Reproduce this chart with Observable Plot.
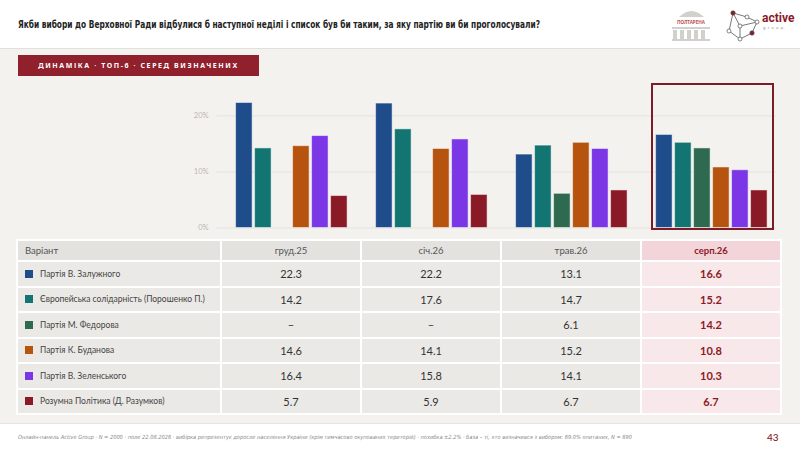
<!DOCTYPE html>
<html><head><meta charset="utf-8">
<script src="https://cdn.jsdelivr.net/npm/d3@7"></script>
<script src="https://cdn.jsdelivr.net/npm/@observablehq/plot@0.6"></script>
<style>
body{margin:0;width:800px;height:451px;overflow:hidden;background:#f4f2ef;font-family:Lato,"Noto Sans",sans-serif;position:relative}
#header{position:absolute;left:0;top:0;width:800px;height:48px;background:#fff;border-bottom:1px solid #e2e0dc}
#title{position:absolute;left:18px;top:18px;font:700 11px "Liberation Sans Narrow","DejaVu Sans Condensed",Roboto,sans-serif;color:#222;white-space:nowrap;transform-origin:0 50%}
#logos{position:absolute;left:660px;top:4px}
#banner{position:absolute;left:18px;top:55px;width:241px;height:21px;background:#8c1a26;color:#fff;font:700 7px "Noto Sans",sans-serif;letter-spacing:1.6px;text-align:center;line-height:21px;opacity:.97}
#chart{position:absolute;left:0;top:80px}
#tbl{position:absolute;left:16px;top:239px;border-collapse:separate;border-spacing:2px;background:#fff;table-layout:fixed}
#tbl td,#tbl th{padding:0;overflow:hidden;white-space:nowrap}
#tbl th{height:19px;background:#e4e2df;font-weight:400;font-size:9.5px;color:#555;text-align:center}
#tbl th.first{text-align:left;padding-left:7px}
#tbl th.hl{background:#f3d4d9;color:#8c1a26;font-weight:700}
#tbl td{height:23.5px;background:#ebe9e6;font-size:11px;color:#333;text-align:center}
#tbl td.name{text-align:left;font-size:8.5px;color:#444;padding-left:7px}
#tbl td.hl{background:#f9e8ea;color:#8c1a26;font-weight:700}
.sw{display:inline-block;width:8px;height:8px;margin-right:7px;vertical-align:-1px}
#footer{position:absolute;left:0;top:423px;width:800px;height:28px;background:#fff;border-top:1px solid #e6e4e0}
#note{position:absolute;left:18px;top:10px;font:italic 400 5.6px "Liberation Sans Narrow","DejaVu Sans Condensed",Roboto,sans-serif;color:#8a8a8a;white-space:nowrap;transform-origin:0 50%}
#page{position:absolute;left:767px;top:7px;font:500 10px Lato,sans-serif;color:#8c1a26}
</style></head>
<body>
<div id="header">
  <div id="title"></div>
  <svg id="logos" width="140" height="40" viewBox="660 4 140 40">
    <g fill="#d2d0cd">
      <path d="M679 17 Q691.5 5 704 17 Z"/>
      <rect x="672" y="27" width="38" height="2"/>
      <rect x="673" y="30" width="4" height="10"/><rect x="680" y="30" width="4" height="10"/>
      <rect x="687" y="30" width="4" height="10"/><rect x="694" y="30" width="4" height="10"/>
      <rect x="701" y="30" width="4" height="10"/><rect x="672" y="39" width="38" height="2"/>
    </g>
    <text x="691" y="24" text-anchor="middle" font-size="4.6" font-family="Noto Sans" font-weight="700" fill="#c0505a">ПОЛТАРЕНА</text>
    <g stroke="#555" stroke-width="0.8" fill="none">
      <polyline points="733,13 747,17 757,22 752,33 740,39 729,31 733,13"/>
      <line x1="733" y1="13" x2="740" y2="26"/><line x1="740" y1="26" x2="757" y2="22"/><line x1="740" y1="26" x2="740" y2="39"/>
    </g>
    <g stroke="#555" stroke-width="0.7">
      <circle cx="733" cy="13" r="2.2" fill="#8c1a26"/><circle cx="747" cy="17" r="2" fill="#fff"/>
      <circle cx="757" cy="22" r="2" fill="#fff"/><circle cx="752" cy="33" r="2.2" fill="#8c1a26"/>
      <circle cx="740" cy="39" r="2" fill="#fff"/><circle cx="729" cy="31" r="2" fill="#fff"/>
      <circle cx="740" cy="26" r="2" fill="#fff"/>
    </g>
    <text x="762" y="22" font-size="12" font-family="Roboto" font-weight="700" fill="#8c1a26">active</text>
    <text x="763" y="29" font-size="4" font-family="Noto Sans" letter-spacing="2.2" fill="#888">group</text>
  </svg>
</div>
<div id="banner">ДИНАМІКА · ТОП-6 · СЕРЕД ВИЗНАЧЕНИХ</div>
<div id="chart"></div>
<table id="tbl"></table>
<div id="footer"><div id="note"></div><div id="page">43</div></div>
<script>
const titleText = "Якби вибори до Верховної Ради відбулися б наступної неділі і список був би таким, за яку партію ви би проголосували?";
const noteText = "Онлайн-панель Active Group · N = 2000 · поле 22.08.2026 · вибірка репрезентує доросле населення України (крім тимчасово окупованих територій) · похибка ±2.2% · база – ті, хто визначився з вибором: 69.0% опитаних, N = 690";
const headerLabel = "Варіант";
const periods = ["груд.25", "січ.26", "трав.26", "серп.26"];
const parties = ["Партія В. Залужного", "Європейська солідарність (Порошенко П.)", "Партія М. Федорова", "Партія К. Буданова", "Партія В. Зеленського", "Розумна Політика (Д. Разумков)"];
const colors = ["#1f4c8a", "#127572", "#2e6a50", "#b6540f", "#7b36e6", "#8b1a27"];
const zaluzhny = [22.3, 22.2, 13.1, 16.6];
const poroshenko = [14.2, 17.6, 14.7, 15.2];
const fedorov = [null, null, 6.1, 14.2];
const budanov = [14.6, 14.1, 15.2, 10.8];
const zelensky = [16.4, 15.8, 14.1, 10.3];
const razumkov = [5.7, 5.9, 6.7, 6.7];
const yTicks = [0, 10, 20];
const highlight = "серп.26";

const series = [zaluzhny, poroshenko, fedorov, budanov, zelensky, razumkov];
const rows = [];
parties.forEach((p, i) => periods.forEach((per, j) => rows.push({party: p, period: per, value: series[i][j]})));
const barRows = rows.filter(d => d.value != null);

document.getElementById("title").textContent = titleText;
document.getElementById("note").textContent = noteText;
function fit(id, w) { const el = document.getElementById(id); const r = el.getBoundingClientRect().width; el.style.transform = `scaleX(${w / r})`; }
fit("title", 522); fit("note", 614);

const chart = Plot.plot({
  width: 800, height: 155,
  marginLeft: 216.5, marginRight: 23.5, marginTop: 4, marginBottom: 7.5,
  style: {background: "transparent", fontFamily: "Lato, sans-serif"},
  fx: {domain: padsafe(periods), padding: 0, round: false, axis: null},
  x: {domain: parties, paddingInner: 0.13, paddingOuter: 0.75, align: 0.67, round: false, axis: null},
  y: {domain: [0, 25.6], axis: null},
  color: {domain: parties, range: colors},
  marks: [
    Plot.gridY(yTicks, {stroke: "#e4e2de", strokeOpacity: 1}),
    Plot.axisY(yTicks, {tickFormat: d => d + "%", tickSize: 0, tickPadding: 8.5, fill: "#bab7b3", fontSize: 7.5, label: null}),
    Plot.barY(barRows, {fx: "period", x: "party", y: "value", fill: "party", stroke: "#ffffff", strokeOpacity: 0.5, strokeWidth: 1}),
    Plot.rect([highlight], {fx: d => d, fill: "none", stroke: "#7d1b26", strokeWidth: 2, insetLeft: 15.5, insetRight: 3.5, insetBottom: -1.5})
  ]
});
function padsafe(a) { return a; }
document.getElementById("chart").appendChild(chart);

const tbl = document.getElementById("tbl");
const colW = [202, 138, 138, 138, 138];
const cg = document.createElement("colgroup");
colW.forEach(w => { const c = document.createElement("col"); c.style.width = w + "px"; cg.appendChild(c); });
tbl.appendChild(cg);
const hr = document.createElement("tr");
const h0 = document.createElement("th"); h0.className = "first"; h0.textContent = headerLabel; hr.appendChild(h0);
periods.forEach(p => { const th = document.createElement("th"); th.textContent = p; if (p === highlight) th.className = "hl"; hr.appendChild(th); });
tbl.appendChild(hr);
parties.forEach((p, i) => {
  const tr = document.createElement("tr");
  const td = document.createElement("td"); td.className = "name";
  td.innerHTML = `<span class="sw" style="background:${colors[i]}"></span>`;
  td.appendChild(document.createTextNode(p));
  tr.appendChild(td);
  periods.forEach((per, j) => {
    const c = document.createElement("td");
    const v = series[i][j];
    c.textContent = v == null ? "–" : v.toFixed(1);
    if (per === highlight) c.className = "hl";
    tr.appendChild(c);
  });
  tbl.appendChild(tr);
});
</script>
</body></html>
